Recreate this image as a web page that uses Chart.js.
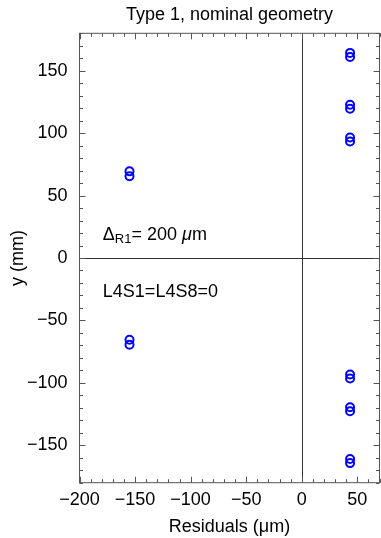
<!DOCTYPE html>
<html>
<head>
<meta charset="utf-8">
<script src="https://cdn.jsdelivr.net/npm/chart.js@4.4.0/dist/chart.umd.min.js"></script>
<style>
html, body { margin: 0; padding: 0; background: #fff; }
#wrap { width: 381px; height: 538px; }
</style>
</head>
<body>
<div id="wrap"><canvas id="myChart"></canvas></div>
<script>
// residuals in um (two near-overlapping circles per module)
const residX = [-155, -155, -155, -155,
	43.5, 43.5, 43.5, 43.5, 43.5, 43.5,
	43.5, 43.5, 43.5, 43.5, 43.5, 43.5];
// y position in mm
const posY = [69.4, 65.5, -65.5, -69.4,
	164.3, 161, 122.8, 119.6, 96.5, 93.3,
	-93.3, -96.5, -119.6, -122.8, -161, -164.3];
const xTicks = [-200, -150, -100, -50, 0, 50];
const yTicks = [-150, -100, -50, 0, 50, 100, 150];
const titleText = 'Type 1, nominal geometry';
const xLabel = 'Residuals (\u03bcm)';
const yLabel = 'y (mm)';

const FONT = '"Liberation Sans", Arial, Helvetica, sans-serif';
const frameColor = '#555';

//turn "-" into a proper minus sign
function minusFmt(v) {
	return v < 0 ? '\u2212' + Math.abs(v) : '' + v;
}

let points = [];
for (let i = 0; i < residX.length; i++) {
	points.push({x: residX[i], y: posY[i]});
}

// frame, inward ticks, zero lines and the two notes
const framePlugin = {
	id: 'frame',
	beforeDatasetsDraw(chart) {
		const ctx = chart.ctx;
		const a = chart.chartArea;
		const xs = chart.scales.x, ys = chart.scales.y;
		ctx.save();
		ctx.strokeStyle = '#333';
		ctx.lineWidth = 1;
		let x0 = Math.round(xs.getPixelForValue(0)) + 0.5;
		let y0 = Math.round(ys.getPixelForValue(0)) + 0.5;
		ctx.beginPath();
		ctx.moveTo(x0, a.top); ctx.lineTo(x0, a.bottom);
		ctx.moveTo(a.left, y0); ctx.lineTo(a.right, y0);
		ctx.stroke();
		ctx.restore();
	},
	afterDraw(chart) {
		const ctx = chart.ctx;
		const a = chart.chartArea;
		const xs = chart.scales.x, ys = chart.scales.y;
		ctx.save();
		ctx.strokeStyle = frameColor;
		ctx.lineWidth = 1;
		ctx.strokeRect(a.left, a.top, a.right - a.left, a.bottom - a.top);
		ctx.beginPath();
		for (let v = -200; v <= 70; v += 10) {
			let len = (v % 50 === 0) ? 6 : 3.5;
			let px = Math.round(xs.getPixelForValue(v)) + 0.5;
			ctx.moveTo(px, a.bottom); ctx.lineTo(px, a.bottom - len);
			ctx.moveTo(px, a.top); ctx.lineTo(px, a.top + len);
		}
		for (let v = -180; v <= 180; v += 10) {
			let len = (v % 50 === 0) ? 6 : 3.5;
			let py = Math.round(ys.getPixelForValue(v)) + 0.5;
			ctx.moveTo(a.left, py); ctx.lineTo(a.left + len, py);
			ctx.moveTo(a.right, py); ctx.lineTo(a.right - len, py);
		}
		ctx.stroke();

		// notes
		ctx.fillStyle = '#000';
		ctx.textBaseline = 'alphabetic';
		ctx.textAlign = 'left';
		let tx = xs.getPixelForValue(-179);
		let ty = ys.getPixelForValue(14.4);
		ctx.font = '18px ' + FONT;
		ctx.fillText('\u0394', tx, ty);
		tx += ctx.measureText('\u0394').width;
		ctx.font = '13px ' + FONT;
		ctx.fillText('R1', tx, ty + 3);
		tx += ctx.measureText('R1').width;
		ctx.font = '18px ' + FONT;
		ctx.fillText('= 200 ', tx, ty);
		tx += ctx.measureText('= 200 ').width;
		ctx.font = 'italic 18px ' + FONT;
		ctx.fillText('\u03bc', tx, ty);
		tx += ctx.measureText('\u03bc').width;
		ctx.font = '18px ' + FONT;
		ctx.fillText('m', tx, ty);

		ctx.fillText('L4S1=L4S8=0', xs.getPixelForValue(-179), ys.getPixelForValue(-31));
		ctx.restore();
	}
};

const ctx = document.getElementById('myChart');
const myChart = new Chart(ctx, {
	type: 'scatter',
	data: {
		datasets: [{
			data: points,
			pointStyle: 'circle',
			pointRadius: 4,
			pointBorderWidth: 2,
			borderColor: 'rgb(0, 0, 255)',
			backgroundColor: 'rgba(0, 0, 0, 0)',
			pointHoverRadius: 4
		}]
	},
	options: {
		responsive: true,
		maintainAspectRatio: false,
		animation: false,
		events: [],
		layout: {
			autoPadding: false,
			padding: {left: 0, right: 1.5, top: 0, bottom: 0}
		},
		plugins: {
			legend: {display: false},
			tooltip: {enabled: false},
			title: {
				display: true,
				text: titleText,
				fullSize: false,
				color: '#000',
				font: {family: FONT, size: 18, weight: 'normal'},
				padding: {top: 4, bottom: 7.7}
			}
		},
		scales: {
			x: {
				type: 'linear',
				min: -200,
				max: 70,
				grid: {display: false, drawTicks: false},
				border: {display: false},
				afterBuildTicks: (scale) => {
					scale.ticks = xTicks.map(v => ({value: v}));
				},
				afterFit: (scale) => {
					scale.height = 55.3;
					scale.paddingRight = 0;
					scale.paddingLeft = 0;
				},
				ticks: {
					color: '#000',
					padding: 7,
					maxRotation: 0,
					font: {family: FONT, size: 18},
					callback: (v) => minusFmt(v)
				},
				title: {
					display: true,
					text: xLabel,
					color: '#000',
					font: {family: FONT, size: 18},
					padding: {top: 0, bottom: 0}
				}
			},
			y: {
				type: 'linear',
				min: -180,
				max: 180,
				grid: {display: false, drawTicks: false},
				border: {display: false},
				afterBuildTicks: (scale) => {
					scale.ticks = yTicks.map(v => ({value: v}));
				},
				afterFit: (scale) => { scale.width = 79.5; },
				ticks: {
					color: '#000',
					padding: 12,
					font: {family: FONT, size: 18},
					callback: (v) => minusFmt(v)
				},
				title: {
					display: true,
					text: yLabel,
					color: '#000',
					font: {family: FONT, size: 18},
					padding: {top: 7, bottom: 0}
				}
			}
		}
	},
	plugins: [framePlugin]
});
</script>
</body>
</html>
